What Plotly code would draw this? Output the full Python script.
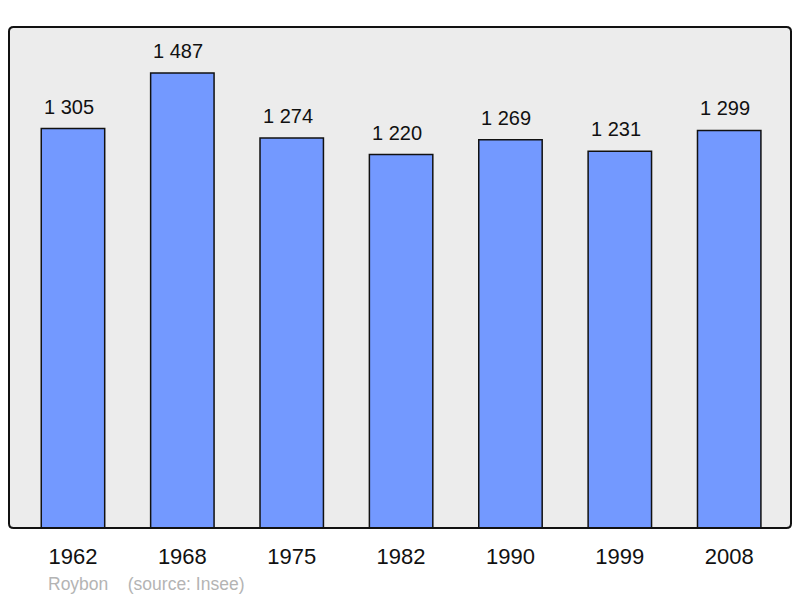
import plotly.graph_objects as go

years = ["1962", "1968", "1975", "1982", "1990", "1999", "2008"]
population = [1305, 1487, 1274, 1220, 1269, 1231, 1299]
commune = "Roybon"
source = "(source: Insee)"

labels = [f"{v:,}".replace(",", " ") for v in population]
FONT = "Liberation Sans, Arial, sans-serif"

fig = go.Figure()
fig.add_trace(go.Bar(
    x=years, y=population, width=0.58,
    marker=dict(color="#7399ff", line=dict(color="#111111", width=1.5)),
    hoverinfo="skip",
))

for i, (v, lab) in enumerate(zip(population, labels)):
    fig.add_annotation(x=i, y=v, text=lab, showarrow=False, yanchor="bottom",
                       yshift=9, xshift=-4, font=dict(family=FONT, size=20, color="#111111"))

fig.add_annotation(xref="paper", yref="paper", x=0, y=0, xshift=37, yshift=-56,
                   xanchor="left", yanchor="middle", showarrow=False,
                   text=commune + "\u00a0\u00a0\u00a0\u00a0" + source,
                   font=dict(family=FONT, size=17.5, color="#b4b4b4"))

rx, ry = 0.006, 0.009
path = (f"M {rx},0 L {1-rx},0 Q 1,0 1,{ry} L 1,{1-ry} Q 1,1 {1-rx},1 "
        f"L {rx},1 Q 0,1 0,{1-ry} L 0,{ry} Q 0,0 {rx},0 Z")
fig.add_shape(type="path", xref="paper", yref="paper", path=path,
              line=dict(color="#111111", width=2), layer="above")

fig.update_layout(
    width=800, height=598,
    margin=dict(l=9, r=9, t=27, b=70),
    paper_bgcolor="white", plot_bgcolor="#ececec",
    showlegend=False,
    xaxis=dict(type="category", range=[-0.585, 6.565], showgrid=False, zeroline=False, ticks="",
               tickfont=dict(family=FONT, size=22, color="#111111"),
               ticklabelstandoff=13),
    yaxis=dict(range=[0, 1637], showgrid=False, zeroline=False, showticklabels=False, ticks=""),
)

fig.write_html("out.html", config={"displayModeBar": False},
               post_script="document.body.style.margin='0';document.body.style.overflow='hidden';")
